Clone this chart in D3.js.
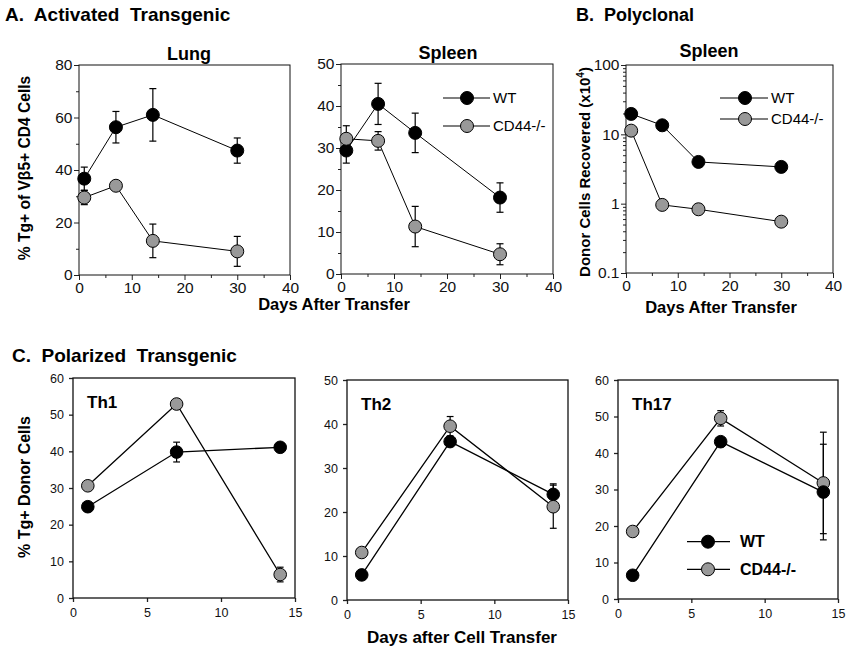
<!DOCTYPE html>
<html><head><meta charset="utf-8">
<script src="https://cdn.jsdelivr.net/npm/d3@7"></script>
<style>body{margin:0;background:#fff}svg{display:block;font-family:"Liberation Sans",Arial,sans-serif}</style>
</head><body>
<script>
// ---- data ----
const daysA = [1, 7, 14, 30];
const lungWT = [36.7, 56.3, 61.0, 47.4];
const lungWTErr = [4.4, 6.0, 10.0, 4.8];
const lungKO = [29.5, 34.0, 13.0, 9.0];
const lungKOErr = [2.7, 1.0, 6.4, 5.7];
const spleenWT = [29.4, 40.5, 33.6, 18.2];
const spleenWTErr = [3.0, 4.9, 4.7, 3.5];
const spleenKO = [32.2, 31.7, 11.3, 4.7];
const spleenKOErr = [3.1, 2.2, 4.8, 2.5];
const polyWT = [19.7, 13.5, 4.0, 3.39];
const polyKO = [11.3, 0.96, 0.83, 0.55];
const daysC = [1, 7, 14];
const th1WT = [24.9, 39.8, 41.1];
const th1WTErr = [0.6, 2.7, 0.6];
const th1KO = [30.6, 52.9, 6.4];
const th1KOErr = [0.6, 0.6, 2.0];
const th2WT = [5.7, 36.0, 24.0];
const th2WTErr = [0.5, 0.8, 2.4];
const th2KO = [10.8, 39.5, 21.2];
const th2KOErr = [0.5, 2.2, 4.9];
const th17WT = [6.5, 43.1, 29.3];
const th17WTErr = [0.5, 0.8, 13.1];
const th17KO = [18.5, 49.5, 31.8];
const th17KOErr = [0.5, 2.1, 13.9];
const seriesNames = ["WT", "CD44-/-"];
const ticksA = [0, 10, 20, 30, 40];
const ticksC = [0, 5, 10, 15];
const logTicks = [0.1, 1, 10, 100];

const BLACK = "#000", GREY = "#999";

const svg = d3.select("body").append("svg").attr("width", 847).attr("height", 648);

function panel(o) {
  const g = svg.append("g");
  const x = d3.scaleLinear().domain(o.xDomain).range([o.x0, o.x1]);
  const y = (o.log ? d3.scaleLog() : d3.scaleLinear()).domain(o.yDomain).range([o.y1, o.y0]);
  const fs = o.tickFont;
  if (o.xMinor) {
    g.append("g").attr("transform", `translate(0,${o.y1})`)
      .call(d3.axisBottom(x).tickValues(o.xMinor).tickSize(3).tickSizeOuter(0).tickFormat(""))
      .call(a => a.select(".domain").remove());
  }
  if (o.yMinor) {
    g.append("g").attr("transform", `translate(${o.x0},0)`)
      .call(d3.axisLeft(y).tickValues(o.yMinor).tickSize(3).tickSizeOuter(0).tickFormat(""))
      .call(a => a.select(".domain").remove());
  }
  const xa = g.append("g").attr("transform", `translate(0,${o.y1})`)
    .call(d3.axisBottom(x).tickValues(o.xTicks).tickSize(o.tick).tickPadding(o.xPad).tickSizeOuter(0));
  const ya = g.append("g").attr("transform", `translate(${o.x0},0)`)
    .call(d3.axisLeft(y).tickValues(o.yTicks).tickSize(o.tick).tickPadding(o.yPad).tickSizeOuter(0)
      .tickFormat(o.yFormat || (d => d)));
  [xa, ya].forEach(a => {
    a.select(".domain").remove();
    a.selectAll("text").attr("font-size", fs).attr("fill", "#111").attr("font-family", "Liberation Sans, Arial, sans-serif");
  });
  g.selectAll(".tick line").attr("stroke", "#222").attr("stroke-width", o.axisW);
  g.append("rect").attr("x", o.x0).attr("y", o.y0).attr("width", o.x1 - o.x0).attr("height", o.y1 - o.y0)
    .attr("fill", "none").attr("stroke", "#111").attr("stroke-width", o.axisW);

  const line = d3.line().x(d => x(d[0])).y(d => y(d[1]));
  o.series.forEach(s => {
    g.append("path").datum(s.x.map((d, i) => [d, s.y[i]])).attr("d", line)
      .attr("fill", "none").attr("stroke", "#000").attr("stroke-width", o.lineW);
  });
  o.series.forEach(s => {
    if (!s.err) return;
    s.x.forEach((d, i) => {
      const e = s.err[i]; if (!e) return;
      const cx = x(d), ya1 = y(s.y[i] + e), ya2 = y(s.y[i] - e);
      g.append("line").attr("x1", cx).attr("x2", cx).attr("y1", ya1).attr("y2", ya2).attr("stroke", "#000").attr("stroke-width", 1.2);
      [ya1, ya2].forEach(yy => g.append("line").attr("x1", cx - o.cap).attr("x2", cx + o.cap).attr("y1", yy).attr("y2", yy).attr("stroke", "#000").attr("stroke-width", 1.2));
    });
  });
  o.series.forEach(s => {
    g.selectAll(null).data(s.x.map((d, i) => [d, s.y[i]])).enter().append("circle")
      .attr("cx", d => x(d[0])).attr("cy", d => y(d[1])).attr("r", o.r)
      .attr("fill", s.fill).attr("stroke", "#000").attr("stroke-width", 1);
  });
  if (o.title) {
    g.append("text").attr("x", o.titleX).attr("y", o.titleY).attr("text-anchor", "middle")
      .attr("font-size", 18).attr("font-weight", "bold").text(o.title);
  }
  if (o.label) {
    g.append("text").attr("x", o.x0 + 14).attr("y", o.y0 + 30).attr("font-size", 17).attr("font-weight", "bold").text(o.label);
  }
  return { x, y, g };
}

function legend(lx0, lx1, mx, tx, ys, fs, bold, r) {
  seriesNames.forEach((n, i) => {
    svg.append("line").attr("x1", lx0).attr("x2", lx1).attr("y1", ys[i]).attr("y2", ys[i]).attr("stroke", "#000").attr("stroke-width", 1.2);
    svg.append("circle").attr("cx", mx).attr("cy", ys[i]).attr("r", r).attr("fill", i ? GREY : BLACK).attr("stroke", "#000");
    svg.append("text").attr("x", tx).attr("y", ys[i]).attr("dy", "0.36em").attr("font-size", fs)
      .attr("font-weight", bold ? "bold" : "normal").text(n);
  });
}

const common = { tick: 5, xPad: 1.5, yPad: 1.5, tickFont: 15.5, axisW: 1, lineW: 1, r: 6.5, cap: 3.5 };

panel(Object.assign({}, common, {
  x0: 79, x1: 290, y0: 65, y1: 275, xDomain: [0, 40], yDomain: [0, 80],
  xTicks: ticksA, xMinor: [5, 15, 25, 35], yTicks: [0, 20, 40, 60, 80], yMinor: [10, 30, 50, 70],
  title: "Lung", titleX: 189, titleY: 60,
  series: [{ x: daysA, y: lungWT, err: lungWTErr, fill: BLACK }, { x: daysA, y: lungKO, err: lungKOErr, fill: GREY }]
}));
panel(Object.assign({}, common, {
  x0: 341, x1: 553, y0: 64, y1: 274, xDomain: [0, 40], yDomain: [0, 50],
  xTicks: ticksA, xMinor: [5, 15, 25, 35], yTicks: [0, 10, 20, 30, 40, 50], yMinor: [5, 15, 25, 35, 45],
  title: "Spleen", titleX: 448, titleY: 59,
  series: [{ x: daysA, y: spleenWT, err: spleenWTErr, fill: BLACK }, { x: daysA, y: spleenKO, err: spleenKOErr, fill: GREY }]
}));
legend(443, 490, 467, 493, [98, 126], 15, false, 6.5);

const minorLog = [];
[0.1, 1, 10].forEach(b => { for (let k = 2; k <= 9; k++) minorLog.push(b * k); });
panel(Object.assign({}, common, {
  x0: 626, x1: 833, y0: 65, y1: 273, xDomain: [0, 40], yDomain: [0.1, 100], log: true,
  xTicks: ticksA, xMinor: [5, 15, 25, 35], yTicks: logTicks, yMinor: minorLog, yFormat: d => String(d),
  title: "Spleen", titleX: 709, titleY: 57,
  series: [{ x: daysA, y: polyWT, fill: BLACK }, { x: daysA, y: polyKO, fill: GREY }]
}));
legend(720, 768, 745, 771, [98, 119], 15, false, 6.5);

const commonC = { tick: 4, xPad: 6, yPad: 5, tickFont: 12.5, axisW: 1.3, lineW: 1.3, r: 6.3, cap: 3.4 };
panel(Object.assign({}, commonC, {
  x0: 73, x1: 295, y0: 378, y1: 598, xDomain: [0, 15], yDomain: [0, 60],
  xTicks: ticksC, yTicks: [0, 10, 20, 30, 40, 50, 60], label: "Th1",
  series: [{ x: daysC, y: th1WT, err: th1WTErr, fill: BLACK }, { x: daysC, y: th1KO, err: th1KOErr, fill: GREY }]
}));
panel(Object.assign({}, commonC, {
  x0: 347, x1: 568, y0: 380, y1: 600, xDomain: [0, 15], yDomain: [0, 50],
  xTicks: ticksC, yTicks: [0, 10, 20, 30, 40, 50], label: "Th2",
  series: [{ x: daysC, y: th2WT, err: th2WTErr, fill: BLACK }, { x: daysC, y: th2KO, err: th2KOErr, fill: GREY }]
}));
panel(Object.assign({}, commonC, {
  x0: 618, x1: 838, y0: 380, y1: 599, xDomain: [0, 15], yDomain: [0, 60],
  xTicks: ticksC, yTicks: [0, 10, 20, 30, 40, 50, 60], label: "Th17",
  series: [{ x: daysC, y: th17KO, err: th17KOErr, fill: GREY }, { x: daysC, y: th17WT, err: th17WTErr, fill: BLACK }]
}));
legend(687, 730, 708, 740, [541.7, 569.3], 16, true, 6.5);

// headings & axis titles
const bold = (x, y, t, fs, anchor) => svg.append("text").attr("x", x).attr("y", y).attr("font-size", fs)
  .attr("font-weight", "bold").attr("text-anchor", anchor || "start").style("white-space", "pre").text(t);
bold(5, 21, "A.  Activated  Transgenic", 19);
bold(576, 21, "B.  Polyclonal", 18);
bold(12, 362, "C.  Polarized  Transgenic", 19);
bold(334, 310, "Days After Transfer", 16.5, "middle");
bold(721, 313, "Days After Transfer", 16.5, "middle");
bold(462, 643, "Days after Cell Transfer", 17, "middle");
svg.append("text").attr("transform", "translate(30,168) rotate(-90)").attr("text-anchor", "middle")
  .attr("font-size", 15.6).attr("font-weight", "bold").text("% Tg+ of Vβ5+ CD4 Cells");
svg.append("text").attr("transform", "translate(30,487) rotate(-90)").attr("text-anchor", "middle")
  .attr("font-size", 16).attr("font-weight", "bold").text("% Tg+ Donor Cells");
const bt = svg.append("text").attr("transform", "translate(590,172) rotate(-90)").attr("text-anchor", "middle")
  .attr("font-size", 15).attr("font-weight", "bold");
bt.append("tspan").text("Donor Cells Recovered (x10");
bt.append("tspan").attr("font-size", 10).attr("dy", -6).text("4");
bt.append("tspan").attr("dy", 6).text(")");
</script>
</body></html>
